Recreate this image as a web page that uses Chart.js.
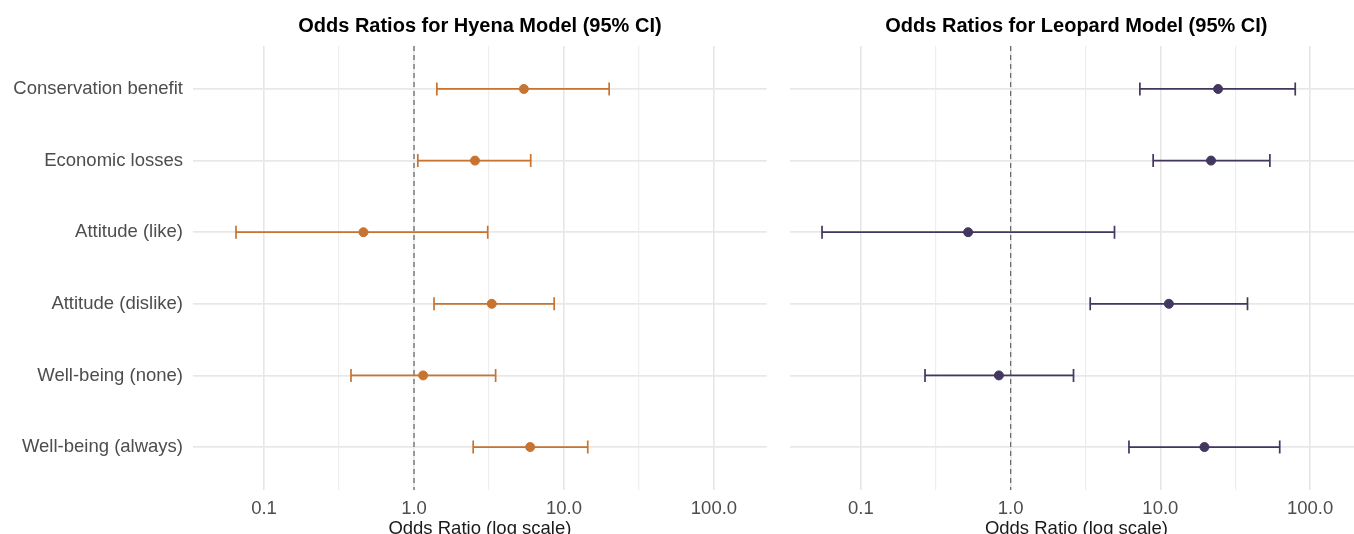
<!DOCTYPE html>
<html lang="en">
  <head>
    <meta charset="UTF-8" />
    <title>Odds Ratios</title>
    <script src="https://cdn.jsdelivr.net/npm/chart.js"></script>
    <style>
      html, body {
        margin: 0;
        padding: 0;
        background: #ffffff;
        overflow: hidden;
      }
      #wrap {
        position: relative;
        width: 1354px;
        height: 534px;
        overflow: hidden;
      }
      canvas {
        position: absolute;
        top: 0;
      }
      #hyenaChart { left: 0; }
      #leopardChart { left: 775px; }
    </style>
  </head>
  <body>
    <div id="wrap">
      <canvas id="hyenaChart" width="775" height="534"></canvas>
      <canvas id="leopardChart" width="596" height="534"></canvas>
    </div>

    <script>
      // predictors, top to bottom
      const categories = [
        "Conservation benefit",
        "Economic losses",
        "Attitude (like)",
        "Attitude (dislike)",
        "Well-being (none)",
        "Well-being (always)",
      ];

      // hyena model: odds ratio with 95% CI
      const hyenaOR = [5.4, 2.55, 0.46, 3.3, 1.15, 5.95];
      const hyenaLow = [1.42, 1.06, 0.065, 1.36, 0.38, 2.48];
      const hyenaHigh = [20.0, 6.0, 3.1, 8.6, 3.5, 14.4];

      // leopard model: odds ratio with 95% CI
      const leopardOR = [24.3, 21.8, 0.52, 11.4, 0.835, 19.7];
      const leopardLow = [7.3, 8.95, 0.055, 3.4, 0.268, 6.17];
      const leopardHigh = [79.6, 53.9, 4.94, 38.2, 2.63, 62.7];

      // x axis grid / ticks (log scale)
      const tickValues = [0.1, 0.3162, 1, 3.162, 10, 31.62, 100];
      const tickLabels = { 0.1: "0.1", 1: "1.0", 10: "10.0", 100: "100.0" };
      const refValue = 1;

      const fontFamily = "'Liberation Sans', Arial, sans-serif";

      function makeChart(canvasId, title, color, or, low, high, showLabels, axisWidth, padRight) {
        const datasets = [];

        // reference line at OR = 1
        datasets.push({
          type: "line",
          data: [
            { x: refValue, y: -0.6 },
            { x: refValue, y: categories.length - 0.4 },
          ],
          borderColor: "#6b6b6b",
          borderWidth: 1.3,
          borderDash: [5, 4],
          pointRadius: 0,
          order: 3,
        });

        // confidence intervals with end caps
        categories.forEach((c, i) => {
          datasets.push({
            type: "line",
            data: [
              { x: low[i], y: i },
              { x: high[i], y: i },
            ],
            borderColor: color,
            borderWidth: 1.7,
            pointStyle: "line",
            pointRotation: 90,
            pointRadius: 6.5,
            pointBorderWidth: 1.7,
            pointBorderColor: color,
            order: 2,
          });
        });

        // point estimates
        datasets.push({
          type: "scatter",
          data: or.map((v, i) => ({ x: v, y: i })),
          backgroundColor: color,
          borderColor: color,
          pointRadius: 4.5,
          order: 1,
        });

        return new Chart(document.getElementById(canvasId), {
          type: "scatter",
          data: { datasets },
          options: {
            responsive: false,
            animation: false,
            layout: { padding: { left: 0, right: padRight, top: 0, bottom: 0 } },
            plugins: {
              legend: { display: false },
              tooltip: { enabled: false },
              title: { display: false },
            },
            scales: {
              x: {
                type: "logarithmic",
                min: 0.0336,
                max: 225,
                afterBuildTicks: (scale) => {
                  scale.ticks = tickValues.map((v) => ({ value: v }));
                },
                afterFit: (scale) => {
                  scale.height = 44;
                },
                ticks: {
                  autoSkip: false,
                  maxRotation: 0,
                  padding: 8,
                  color: "#4d4d4d",
                  font: { family: fontFamily, size: 18.5 },
                  callback: (v) => tickLabels[v] ?? "",
                },
                grid: {
                  drawTicks: false,
                  color: (ctx) => (ctx.tick && tickLabels[ctx.tick.value] ? "#e6e6e6" : "#eeeeee"),
                  lineWidth: (ctx) => (ctx.tick && tickLabels[ctx.tick.value] ? 1.6 : 1.2),
                },
                border: { display: false },
                title: {
                  display: true,
                  text: "Odds Ratio (log scale)",
                  color: "#1a1a1a",
                  font: { family: fontFamily, size: 18.5 },
                  padding: { top: 0, bottom: -6 },
                },
              },
              top: {
                type: "linear",
                position: "top",
                afterFit: (scale) => {
                  scale.height = 46;
                },
                ticks: { display: false },
                grid: { display: false },
                border: { display: false },
                title: {
                  display: true,
                  text: title,
                  color: "#000000",
                  font: { family: fontFamily, size: 20, weight: "bold" },
                  padding: { top: 14, bottom: 0 },
                },
              },
              y: {
                type: "linear",
                reverse: true,
                min: -0.6,
                max: categories.length - 0.4,
                afterBuildTicks: (scale) => {
                  scale.ticks = categories.map((c, i) => ({ value: i }));
                },
                afterFit: (scale) => {
                  scale.width = axisWidth;
                },
                ticks: {
                  display: showLabels,
                  autoSkip: false,
                  padding: 10,
                  color: "#4d4d4d",
                  font: { family: fontFamily, size: 18.5 },
                  callback: (v) => categories[v] ?? "",
                },
                grid: {
                  drawTicks: false,
                  color: "#e8e8e8",
                  lineWidth: 1.8,
                },
                border: { display: false },
              },
            },
          },
        });
      }

      makeChart(
        "hyenaChart",
        "Odds Ratios for Hyena Model (95% CI)",
        "#c8732f",
        hyenaOR,
        hyenaLow,
        hyenaHigh,
        true,
        193,
        7
      );

      makeChart(
        "leopardChart",
        "Odds Ratios for Leopard Model (95% CI)",
        "#43365f",
        leopardOR,
        leopardLow,
        leopardHigh,
        false,
        15,
        0
      );
    </script>
  </body>
</html>
